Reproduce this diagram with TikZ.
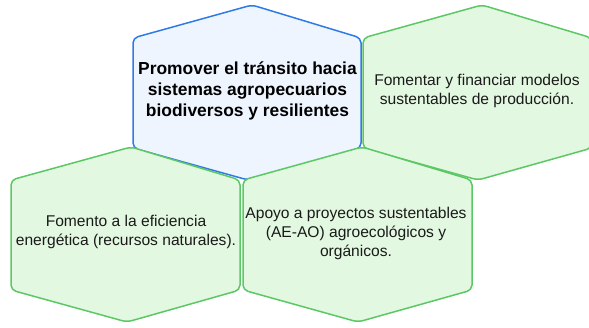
\documentclass[tikz,border=0pt]{standalone}
\usepackage{fontspec}
\setmainfont{Liberation Sans}
\definecolor{bstroke}{HTML}{2F7BE6}
\definecolor{bfill}{HTML}{EEF5FF}
\definecolor{gstroke}{HTML}{5CC865}
\definecolor{gfill}{HTML}{E3F8E1}
\definecolor{txt}{HTML}{1A1A1A}
\tikzset{
  hexblue/.style={draw=bstroke, fill=bfill, line width=1.5pt, rounded corners=5pt, line join=round},
  hexgreen/.style={draw=gstroke, fill=gfill, line width=1.5pt, rounded corners=5pt, line join=round},
  boldlabel/.style={align=center, font=\fontsize{17.4}{21}\selectfont\bfseries, text=black, inner sep=0pt},
  plainlabel/.style={align=center, font=\fontsize{15.6}{19}\selectfont, text=txt, inner sep=0pt}
}
% #1 style, #2 cx, #3 left, #4 right, #5 top, #6 bottom
\newcommand\hexshape[6]{%
  \path[#1] ({#3},{(#5+#6)/2}) -- ({#3},{#5+33}) -- ({#2+5},{#5}) -- ({#4},{#5+33})
    -- ({#4},{#6-32}) -- ({#2+1},{#6}) -- ({#3},{#6-32}) -- cycle;}
\begin{document}
\begin{tikzpicture}[x=1pt,y=-1pt]
\useasboundingbox (0,0) rectangle (589,327);
\begin{scope}
\clip (0,0) rectangle (589,327);
\hexshape{hexblue}{247}{133}{361}{5}{180}
\hexshape{hexgreen}{477}{363}{592}{5}{180}
\hexshape{hexgreen}{126}{11}{240}{147}{322}
\hexshape{hexgreen}{357}{243}{472}{147}{322}
\end{scope}
\node[boldlabel] (t1) at (247.5,91) {Promover el tránsito hacia\\sistemas agropecuarios\\biodiversos y resilientes};
\node[plainlabel] (t2) at (477,91) {Fomentar y financiar modelos\\sustentables de producción.};
\node[plainlabel] (t3) at (126,232) {Fomento a la eficiencia\\energética (recursos naturales).};
\node[plainlabel] (t4) at (356,233) {Apoyo a proyectos sustentables\\(AE-AO) agroecológicos y\\orgánicos.};
\end{tikzpicture}
\end{document}
